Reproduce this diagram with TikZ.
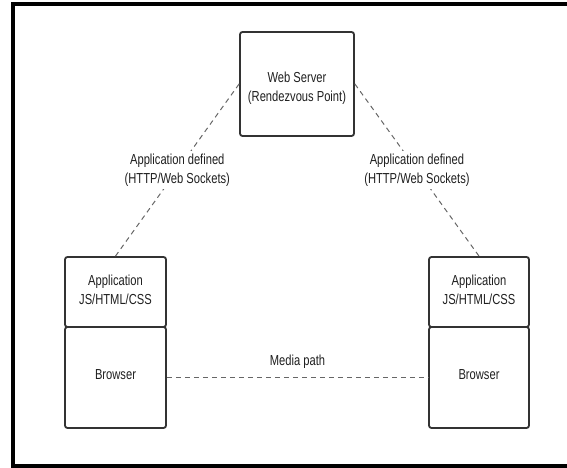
\documentclass[tikz,border=0pt]{standalone}
\usepackage{fontspec}
\setmainfont{Liberation Sans}[FakeStretch=0.77]
\begin{document}
\begin{tikzpicture}[x=1pt,y=1pt,
  box/.style={draw=black!80, line width=1.8pt, rounded corners=2.5pt, minimum width=#1, inner sep=0pt},
  txt/.style={font=\fontsize{14.5}{19}\selectfont, text=black!88, align=center},
  link/.style={draw=black!60, line width=1pt, dash pattern=on 5pt off 4pt},
  lbl/.style={txt, fill=white, inner sep=3pt}]
\useasboundingbox (0,0) rectangle (567,468);
% frame
\draw[line width=4pt] (570,464) -- (13,464) -- (13,2) -- (570,2);
% nodes
\node[box=114pt, minimum height=104pt] (ws) at (297,384) {};
\node[txt] (wst) at (297,380) {Web Server\\(Rendezvous Point)};
\node[box=101pt, minimum height=70pt] (appL) at (115.5,176) {};
\node[txt] (appLt) at (115.5,178) {Application\\JS/HTML/CSS};
\node[box=101pt, minimum height=101pt] (brL) at (115.5,90.5) {};
\node[txt] (brLt) at (115.5,93) {Browser};
\node[box=100pt, minimum height=70pt] (appR) at (479,176) {};
\node[txt] (appRt) at (479,178) {Application\\JS/HTML/CSS};
\node[box=100pt, minimum height=101pt] (brR) at (479,90.5) {};
\node[txt] (brRt) at (479,93) {Browser};
% connectors
\draw[link] (ws.west) -- node[lbl, pos=0.5] (la) {Application defined\\(HTTP/Web Sockets)} (appL.north);
\draw[link] (ws.east) -- node[lbl, pos=0.5] (lb) {Application defined\\(HTTP/Web Sockets)} (appR.north);
\draw[link] (brL.east) -- node[txt, midway, yshift=16pt] (mp) {Media path} (brR.west);
\end{tikzpicture}
\end{document}
